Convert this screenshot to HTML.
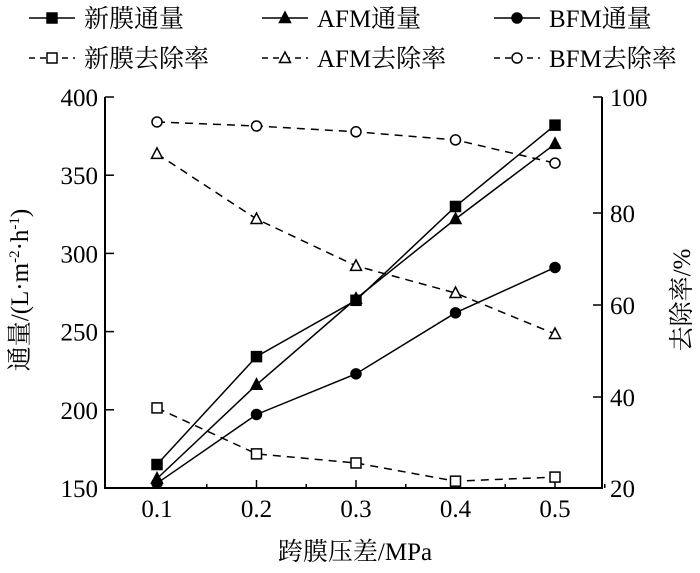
<!DOCTYPE html>
<html><head><meta charset="utf-8"><style>
body{margin:0;background:#fff;}
svg text{font-family:"Liberation Serif","Noto Serif CJK SC",serif;fill:#000;}
</style></head><body>
<svg id="chart" width="700" height="568" viewBox="0 0 700 568" xmlns="http://www.w3.org/2000/svg">
<g id="legend"></g>
<g id="axes"></g>
<g id="series"></g>
<text x="355" y="560" font-size="25" text-anchor="middle">跨膜压差/MPa</text>
<text transform="translate(28,290) rotate(-90)" font-size="25" text-anchor="middle">通量/(L·m<tspan font-size="15" dy="-9">-2</tspan><tspan dy="9">·h</tspan><tspan font-size="15" dy="-9">-1</tspan><tspan dy="9">)</tspan></text>
<text transform="translate(690,300) rotate(-90)" font-size="25" text-anchor="middle">去除率/%</text>
</svg>
<script>
const pressures = [0.1, 0.2, 0.3, 0.4, 0.5];
const xTicks = [0.1, 0.2, 0.3, 0.4, 0.5];
const leftTicks = [150, 200, 250, 300, 350, 400];
const rightTicks = [20, 40, 60, 80, 100];
const newFlux = [165, 234, 270, 330, 382];
const afmFlux = [156, 216, 271, 322, 370];
const bfmFlux = [153, 197, 223, 262, 291];
const newRemoval = [37.6, 27.5, 25.5, 21.5, 22.4];
const afmRemoval = [90.2, 78.7, 68.5, 62.6, 53.7];
const bfmRemoval = [95.7, 95.0, 94.0, 92.6, 88.6];

const NS = "http://www.w3.org/2000/svg";
const L = 105, R = 602, T = 97, B = 488;
const rightTickPx = [488, 397, 305, 213, 97];
function xs(v){ return 157 + (v - 0.1) / 0.1 * 99.5; }
function yl(v){ return B - (v - 150) / 250 * (B - T); }
function yr(v){
  for (let i = 0; i < rightTicks.length - 1; i++) {
    if (v <= rightTicks[i + 1] || i === rightTicks.length - 2) {
      const f = (v - rightTicks[i]) / (rightTicks[i + 1] - rightTicks[i]);
      return rightTickPx[i] + f * (rightTickPx[i + 1] - rightTickPx[i]);
    }
  }
}
function mk(tag, attrs, parent){
  const e = document.createElementNS(NS, tag);
  for (const k in attrs) e.setAttribute(k, attrs[k]);
  parent.appendChild(e); return e;
}
const axes = document.getElementById('axes');
const frame = mk('path', {d:`M${L},${T} L${L},${B} L${R},${B} L${R},${T}`, fill:'none', stroke:'#000', 'stroke-width':2}, axes);


xTicks.forEach(v => {
  const x = xs(v);
  const t = mk('line', {x1:x, x2:x, y1:B, y2:B-8, stroke:'#000', 'stroke-width':1.5}, axes);
  
  
  const m = mk('line', {x1:x+49.75, x2:x+49.75, y1:B, y2:B-4, stroke:'#000', 'stroke-width':1.5}, axes);
  
  
  const lb = mk('text', {x:x, y:B+29, 'font-size':25, 'text-anchor':'middle'}, axes);
  lb.textContent = v.toFixed(1);
  
  
});
leftTicks.forEach(v => {
  const y = yl(v);
  const t = mk('line', {x1:L, x2:L+9, y1:y, y2:y, stroke:'#000', 'stroke-width':1.5}, axes);
  
  
  const lb = mk('text', {x:L-7, y:y+9, 'font-size':25, 'text-anchor':'end'}, axes);
  lb.textContent = v;
  
  
});
rightTicks.forEach(v => {
  const y = yr(v);
  const t = mk('line', {x1:R, x2:R-9, y1:y, y2:y, stroke:'#000', 'stroke-width':1.5}, axes);
  
  
  const lb = mk('text', {x:R+8, y:y+9, 'font-size':25, 'text-anchor':'start'}, axes);
  lb.textContent = v;
  
  
});

function marker(kind, x, y, parent){
  let e;
  const filled = kind.endsWith('f');
  const fill = filled ? '#000' : '#fff';
  const k = kind[0];
  if (k === 's') e = mk('rect', {x:x-5, y:y-5, width:10, height:10, fill, stroke:'#000', 'stroke-width':1.5}, parent);
  else if (k === 't') e = mk('polygon', {points:`${x},${y-6} ${x-5.5},${y+4.5} ${x+5.5},${y+4.5}`, fill, stroke:'#000', 'stroke-width':1.5}, parent);
  else e = mk('circle', {cx:x, cy:y, r:5, fill, stroke:'#000', 'stroke-width':1.5}, parent);
  return e;
}
const series = [
  {name:'new-flux', vals:newFlux, y:yl, m:'sf', dash:null},
  {name:'afm-flux', vals:afmFlux, y:yl, m:'tf', dash:null},
  {name:'bfm-flux', vals:bfmFlux, y:yl, m:'cf', dash:null},
  {name:'new-removal', vals:newRemoval, y:yr, m:'so', dash:'8,6'},
  {name:'afm-removal', vals:afmRemoval, y:yr, m:'to', dash:'8,6'},
  {name:'bfm-removal', vals:bfmRemoval, y:yr, m:'co', dash:'8,6'}
];
const sg = document.getElementById('series');
series.forEach(s => {
  const g = mk('g', {}, sg);
  
  
  const pts = s.vals.map((v, i) => xs(pressures[i]) + ',' + s.y(v)).join(' ');
  const pl = mk('polyline', {points:pts, fill:'none', stroke:'#000', 'stroke-width':1.5}, g);
  if (s.dash) pl.setAttribute('stroke-dasharray', s.dash);
  
  
  s.vals.forEach((v, i) => {
    const p = marker(s.m, xs(pressures[i]), s.y(v), g);
    
    
  });
});

const legendItems = [
  {label:'新膜通量', m:'sf', dash:null, x:29, y:18},
  {label:'AFM通量', m:'tf', dash:null, x:262, y:18},
  {label:'BFM通量', m:'cf', dash:null, x:494, y:18},
  {label:'新膜去除率', m:'so', dash:'6,5', x:29, y:58},
  {label:'AFM去除率', m:'to', dash:'6,5', x:262, y:58},
  {label:'BFM去除率', m:'co', dash:'6,5', x:494, y:58}
];
const lg = document.getElementById('legend');
legendItems.forEach(it => {
  const g = mk('g', {}, lg);
  
  
  const ln = mk('line', {x1:it.x, x2:it.x+46, y1:it.y, y2:it.y, stroke:'#000', 'stroke-width':1.5}, g);
  if (it.dash) ln.setAttribute('stroke-dasharray', it.dash);
  
  
  const mm = marker(it.m, it.x+23, it.y, g);
  
  
  const t = mk('text', {x:it.x+55, y:it.y+9, 'font-size':25}, g);
  t.textContent = it.label;
  
  
});
</script>
</body></html>
